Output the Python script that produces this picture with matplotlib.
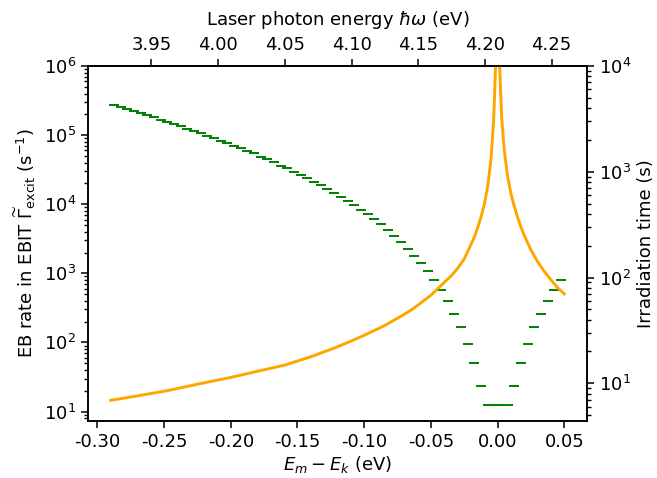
import numpy as np
import matplotlib
matplotlib.use("Agg")
import matplotlib.pyplot as plt
from matplotlib.ticker import MultipleLocator, FormatStrFormatter

# ---- data ----
E_RES = 4.2095  # photon energy at E_m - E_k = 0 (eV)

# EB rate per 5 meV bin (bin centres)
bin_centres = np.round(np.arange(-0.2875, 0.0476, 0.005), 4)
eb_rate = [
    2.76e5, 2.58e5, 2.39e5, 2.24e5, 2.10e5, 1.96e5, 1.82e5, 1.68e5, 1.55e5, 1.45e5,
    1.35e5, 1.24e5, 1.15e5, 1.07e5, 9.86e4, 9.04e4, 8.35e4, 7.66e4, 7.00e4, 6.48e4,
    5.93e4, 5.42e4, 4.90e4, 4.44e4, 4.02e4, 3.63e4, 3.29e4, 2.95e4, 2.64e4, 2.36e4,
    2.11e4, 1.87e4, 1.66e4, 1.47e4, 1.28e4, 1.12e4,
    9.62e3, 8.34e3, 7.13e3, 6.04e3, 5.12e3, 4.25e3, 3.48e3, 2.85e3, 2.28e3, 1.81e3,
    1.40e3, 1.07e3,
    795, 570, 395, 262, 166, 93.7, 49.8, 23.4, 12.3, 12.3,
    12.3, 12.3, 23.4, 49.8, 93.7, 166, 262, 395, 570, 795,
]

# irradiation time curve
detuning = [
    -0.290, -0.270, -0.248, -0.225, -0.198, -0.180, -0.160, -0.140, -0.123, -0.110,
    -0.098, -0.085, -0.073, -0.065, -0.058, -0.050, -0.045, -0.040, -0.035, -0.030,
    -0.025, -0.020, -0.0175, -0.015, -0.0125, -0.010, -0.0075, -0.005, -0.003, -0.0015,
    0.0,
    0.0015, 0.003, 0.005, 0.0075, 0.010, 0.0125, 0.015, 0.0175, 0.020, 0.025,
    0.030, 0.035, 0.040, 0.045, 0.050,
]
irr_time = [
    6.9, 7.6, 8.5, 9.8, 11.5, 13.0, 14.8, 17.8, 21.4, 25.0,
    29.2, 35.0, 42.6, 49.0, 57.0, 68.0, 78.0, 90.0, 103, 122,
    150, 205, 240, 295, 370, 490, 720, 1300, 3000, 1.0e4,
    1.0e6,
    1.0e4, 3300, 1600, 900, 620, 470, 370, 300, 250, 182,
    141, 114, 95.0, 80.0, 70.0,
]

plt.rcParams['font.size'] = 13
plt.rcParams['axes.unicode_minus'] = False
plt.rcParams['axes.linewidth'] = 1.15
for a in ('xtick', 'ytick'):
    plt.rcParams[a + '.major.size'] = 5
    plt.rcParams[a + '.minor.size'] = 3.2
    plt.rcParams[a + '.major.width'] = 1.1
    plt.rcParams[a + '.minor.width'] = 1.0

fig = plt.figure(figsize=(6.57, 4.78), dpi=100)
ax = fig.add_axes([88 / 657, 1 - 421 / 478, 499.4 / 657, 355 / 478])

ax.plot(bin_centres, eb_rate, ls='none', marker='_', ms=6.7, mew=1.4, color='green')
ax.set_yscale('log')
ax.set_ylim(7.3, 1e6)
ax.set_xlim(-0.307, 0.0673)
ax.xaxis.set_major_locator(MultipleLocator(0.05))
ax.xaxis.set_major_formatter(FormatStrFormatter('%.2f'))
ax.set_xlabel(r'$E_m - E_k$ (eV)', labelpad=2)
ax.set_ylabel(r'EB rate in EBIT $\widetilde{\Gamma}_{\rm excit}$ (s$^{-1}$)', labelpad=4)

ax2 = ax.twinx()
ax2.plot(detuning, irr_time, color='orange', lw=2.1)
ax2.set_yscale('log')
ax2.set_ylim(4.4, 1e4)
ax2.set_ylabel('Irradiation time (s)')

top = ax.secondary_xaxis('top', functions=(lambda x: x + E_RES, lambda e: e - E_RES))
top.xaxis.set_major_locator(MultipleLocator(0.05))
top.xaxis.set_major_formatter(FormatStrFormatter('%.2f'))
top.set_xlabel(r'Laser photon energy $\hbar\omega$ (eV)', labelpad=8)

fig.savefig('out.png', dpi=100)
